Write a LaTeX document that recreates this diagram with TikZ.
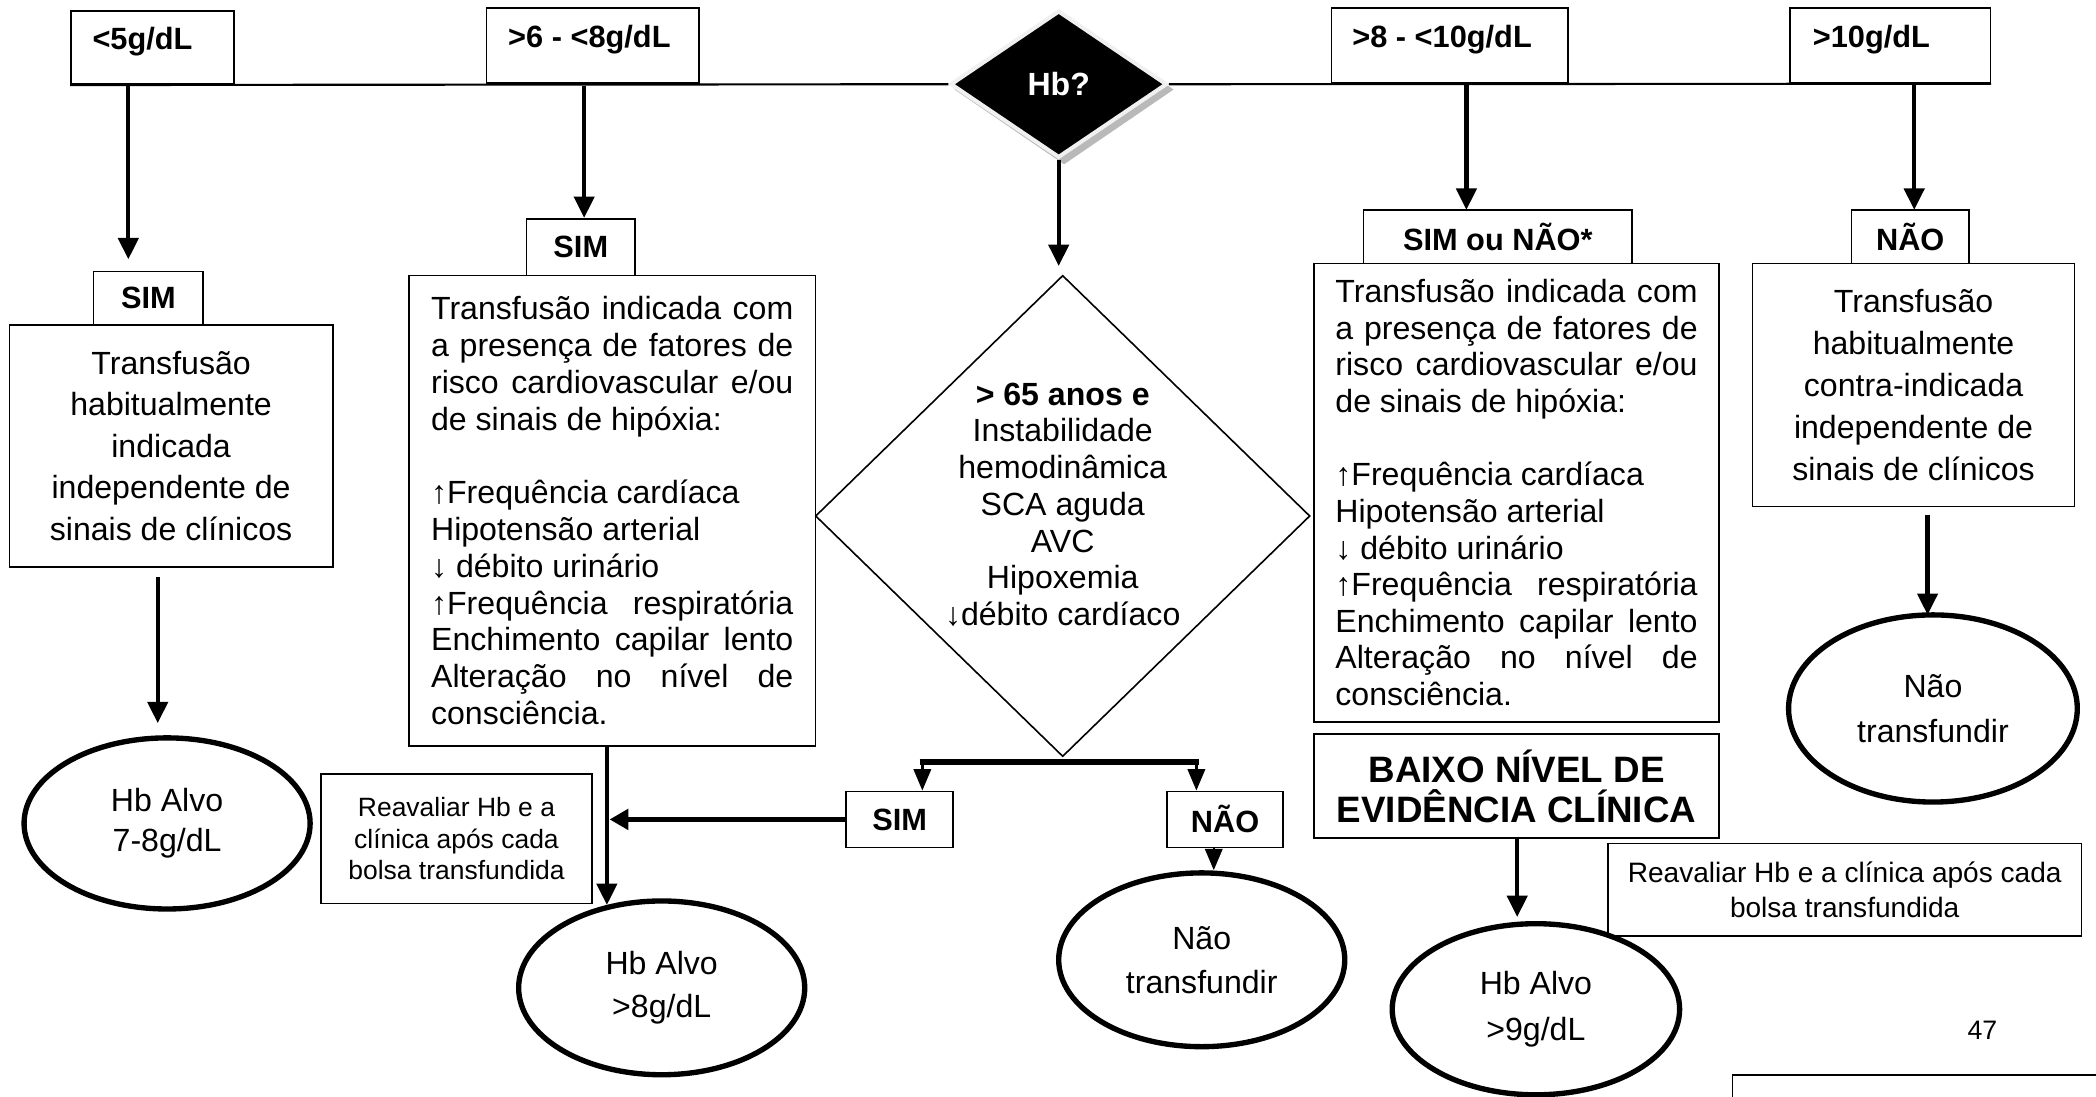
\documentclass[tikz,border=0pt]{standalone}
\usepackage{fontspec}
\setmainfont{Liberation Sans}
\usetikzlibrary{shapes.geometric,arrows.meta}
\newcommand\jl[1]{\hbox to 271pt{#1}}
\newcommand\riskblock{%
\vbox{\jl{Transfusão\hfill indicada\hfill com}
\jl{a\hfill presença\hfill de\hfill fatores\hfill de}
\jl{risco\hfill cardiovascular\hfill e/ou}
\hbox{de sinais de hipóxia:}
\hbox{}
\hbox{↑Frequência cardíaca}
\hbox{Hipotensão arterial}
\hbox{↓ débito urinário}
\jl{↑Frequência\hfill respiratória}
\jl{Enchimento\hfill capilar\hfill lento}
\jl{Alteração\hfill no\hfill nível\hfill de}
\hbox{consciência.}}}
\begin{document}
\begin{tikzpicture}[x=1pt,y=-1pt,
 box/.style={draw, line width=1.2pt, inner sep=0pt, align=center},
 lbl/.style={font=\fontsize{23}{27}\selectfont\bfseries},
 txt/.style={font=\fontsize{24}{27.5}\selectfont, align=center},
 oval/.style={ellipse, draw, line width=4pt, inner sep=0pt, align=center, minimum width=214pt, minimum height=128pt},
 arr/.style={line width=3.2pt, -{Triangle[width=15pt,length=16pt]}},
 thinarr/.style={line width=1.8pt, -{Triangle[width=13pt,length=16pt]}},
]
\clip (0,0) rectangle (1568,820);
\fill[white] (0,0) rectangle (1568,820);

% top boxes
\node[box, minimum width=122pt, minimum height=55pt] (t1) at (114,35.5) {};
\node[lbl, anchor=west, inner sep=0pt] (t1l) at (69,31) {<5g/dL};
\node[box, minimum width=159pt, minimum height=56pt] (t2) at (443.5,34) {};
\node[lbl, anchor=west, inner sep=0pt] (t2l) at (380,30) {>6 - <8g/dL};
\node[box, minimum width=177pt, minimum height=56pt] (t3) at (1084.5,34) {};
\node[lbl, anchor=west, inner sep=0pt] (t3l) at (1011.5,30) {>8 - <10g/dL};
\node[box, minimum width=150pt, minimum height=56pt] (t4) at (1414,34) {};
\node[lbl, anchor=west, inner sep=0pt] (t4l) at (1356,30) {>10g/dL};

% Hb? diamond
\node[diamond, fill=gray!55, minimum width=164pt, minimum height=112pt, inner sep=0pt] (hbsh) at (796,67) {};
\node[diamond, fill=black, draw=gray!12, line width=3pt, minimum width=162pt, minimum height=110pt, inner sep=0pt, text=white, font=\fontsize{24}{28}\selectfont\bfseries] (hb) at (792,63) {Hb?};

\draw[line width=1.6pt] (t1.south west) -- (hb.west);
\draw[line width=1.6pt] (hb.east) -- (t4.south east);

% left column
\node[box, lbl, minimum width=82pt, minimum height=40pt] (sim1) at (111,223) {SIM};
\node[box, txt, minimum width=242pt, minimum height=181pt, font=\fontsize{24}{31}\selectfont] (lb) at (128,333.5) {Transfusão\\habitualmente\\indicada\\independente de\\sinais de clínicos};
\node[oval, font=\fontsize{24}{30}\selectfont] (e1) at (125,616) {Hb Alvo\\7-8g/dL};

% middle-left column
\node[box, lbl, minimum width=81pt, minimum height=42pt] (sim2) at (434.5,185) {SIM};
\node[box, minimum width=304pt, minimum height=352pt, font=\fontsize{24}{27.5}\selectfont] (mb) at (458,382) {\riskblock};
\node[box, minimum width=203pt, minimum height=97pt, font=\fontsize{19.8}{23.5}\selectfont] (rev1) at (341.5,627.5) {Reavaliar Hb e a\\clínica após cada\\bolsa transfundida};
\node[oval, minimum height=130pt, font=\fontsize{24}{32}\selectfont] (e2) at (495,739) {Hb Alvo\\>8g/dL};

% center decision
\node[diamond, draw, line width=1.2pt, minimum width=370pt, minimum height=360pt, inner sep=0pt] (d) at (795,386) {};
\node[txt, inner sep=0pt] (dtext) at (795,377.5) {\textbf{> 65 anos e}\\Instabilidade\\hemodinâmica\\SCA aguda\\AVC\\Hipoxemia\\↓débito cardíaco};
\node[box, lbl, minimum width=80pt, minimum height=42pt] (sim3) at (673,613) {SIM};
\node[box, lbl, minimum width=87pt, minimum height=42pt] (nao2) at (916.5,613) {NÃO};
\node[oval, minimum height=130pt, font=\fontsize{24}{33}\selectfont] (e3) at (899,718) {Não\\transfundir};

% right column
\node[box, lbl, minimum width=201pt, minimum height=40pt] (sim4) at (1120.5,177) {SIM ou NÃO*};
\node[box, minimum width=303pt, minimum height=343pt, font=\fontsize{24}{27.4}\selectfont] (rb) at (1134.5,368.5) {\riskblock};
\node[box, minimum width=303pt, minimum height=78pt, font=\fontsize{27.5}{30}\selectfont\bfseries] (baixo) at (1134.5,588) {BAIXO NÍVEL DE\\EVIDÊNCIA CLÍNICA};
\node[oval, minimum width=215pt, font=\fontsize{24}{35}\selectfont] (e4) at (1149,755) {Hb Alvo\\>9g/dL};
\node[box, minimum width=354pt, minimum height=69pt, font=\fontsize{21}{26}\selectfont] (rev2) at (1380,665.5) {Reavaliar Hb e a clínica após cada\\bolsa transfundida};

% far right column
\node[box, lbl, minimum width=88pt, minimum height=40pt] (nao1) at (1429,177) {NÃO};
\node[box, txt, minimum width=241pt, minimum height=182pt, font=\fontsize{24}{31.5}\selectfont] (frb) at (1431.5,288) {Transfusão\\habitualmente\\contra-indicada\\independente de\\sinais de clínicos};
\node[oval, minimum width=216pt, minimum height=140pt, font=\fontsize{24}{34}\selectfont] (e5) at (1446,530) {Não\\transfundir};

\node[font=\fontsize{20}{24}\selectfont] (pg) at (1483,771) {47};

% connectors
\coordinate (a1s) at (96,64);   \coordinate (a1e) at (96,194);
\coordinate (a2s) at (437,64);  \coordinate (a2e) at (437,163);
\coordinate (a3s) at (1097,63); \coordinate (a3e) at (1097,157);
\coordinate (a4s) at (1432,62); \coordinate (a4e) at (1432,157);
\coordinate (a5e) at (792,199);
\draw[arr] (a1s) -- (a1e);
\draw[arr] (a2s) -- (a2e);
\draw[arr] (a3s) -- (a3e);
\draw[arr] (a4s) -- (a4e);
\draw[arr] (hb.south) -- (a5e);

\coordinate (a6s) at (118,432); \coordinate (a6e) at (118,541);
\draw[arr] (a6s) -- (a6e);

\coordinate (v2s) at (454,558); \coordinate (v2e) at (454,677);
\draw[arr] (v2s) -- (v2e);
\coordinate (vj) at (456,613);
\draw[line width=3.5pt, -{Triangle[width=15pt,length=14pt]}] (sim3.west) -- (vj);

\coordinate (bl) at (690,570); \coordinate (br) at (895,570);
\draw[line width=4.5pt] (688,570) -- (897,570);
\draw[thinarr] (bl) -- (sim3.north -| bl);
\draw[thinarr] (br) -- (nao2.north -| br);
\coordinate (n2x) at (908,0);
\draw[thinarr] (nao2.south -| n2x) -- (e3.north -| n2x);

\coordinate (bx) at (1135,0); \coordinate (a8e) at (1135,686);
\draw[arr] (baixo.south -| bx) -- (a8e);

\coordinate (a9s) at (1442,385); \coordinate (a9e) at (1442,460);
\draw[arr] (a9s) -- (a9e);

% cut-off box at bottom right
\draw[line width=1.2pt] (1296,804) rectangle (1620,900);
\end{tikzpicture}
\end{document}
